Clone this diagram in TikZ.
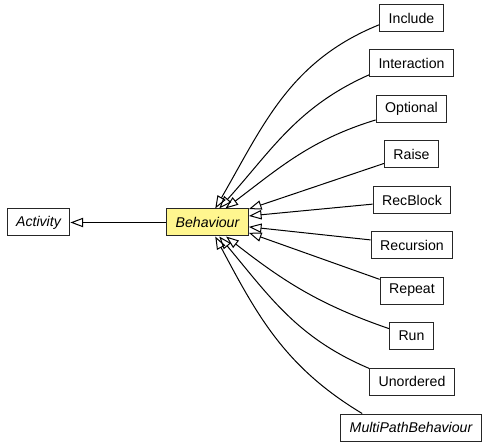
\documentclass[tikz,border=0pt]{standalone}
\usepackage{fontspec}
\setmainfont{Liberation Sans}
\usetikzlibrary{arrows.meta}
\definecolor{khaki}{HTML}{FFF68F}

\begin{document}
\begin{tikzpicture}[x=0.75pt, y=0.75pt,
        cls/.style={draw=black!85, rectangle, line width=0.75pt, minimum height=20.25pt, inner xsep=6.8pt, inner ysep=0pt, font=\fontsize{10.6pt}{12pt}\selectfont},
        abs/.style={cls, font=\fontsize{10.6pt}{12pt}\selectfont\itshape},
        gen/.style={line width=0.75pt, -{Triangle[open, length=9.5pt, width=7pt]}}]
        \useasboundingbox (0,0) rectangle (485,-445);
        \node[abs] (act) at (38.5,-222.5) {Activity};
        \node[abs, fill=khaki] (beh) at (207.5,-222.5) {Behaviour};
        \node[cls] (include) at (411.5,-18.5) {Include};
        \node[cls] (interaction) at (411.5,-63.5) {Interaction};
        \node[cls] (optional) at (411.5,-109) {Optional};
        \node[cls] (raise) at (411.5,-154.5) {Raise};
        \node[cls] (recblock) at (412,-200) {RecBlock};
        \node[cls] (recursion) at (412,-245) {Recursion};
        \node[cls] (repeat) at (412,-290.5) {Repeat};
        \node[cls] (run) at (411.5,-335.5) {Run};
        \node[cls] (unordered) at (412,-381.5) {Unordered};
        \node[abs] (multipath) at (411,-427.5) {MultiPathBehaviour};

        \draw[gen] (beh) -- (act);
        \draw[gen] (include.191) to[out=202, in=60] (beh.61);
        \draw[gen] (interaction.195) to[out=204, in=48] (beh.50);
        \draw[gen] (optional.197) to[out=197, in=37] (beh.38);
        \draw[gen] (raise.198) -- (beh.18);
        \draw[gen] (recblock.186) -- (beh.9);
        \draw[gen] (recursion.173) -- (beh.-6);
        \draw[gen] (repeat.161) -- (beh.-14);
        \draw[gen] (run.163) to[out=161, in=-38] (beh.-37);
        \draw[gen] (unordered.163) to[out=157, in=-50] (beh.-50);
        \draw[gen] (multipath.164) to[out=149, in=-62] (beh.-61);
    \end{tikzpicture}
\end{document}
